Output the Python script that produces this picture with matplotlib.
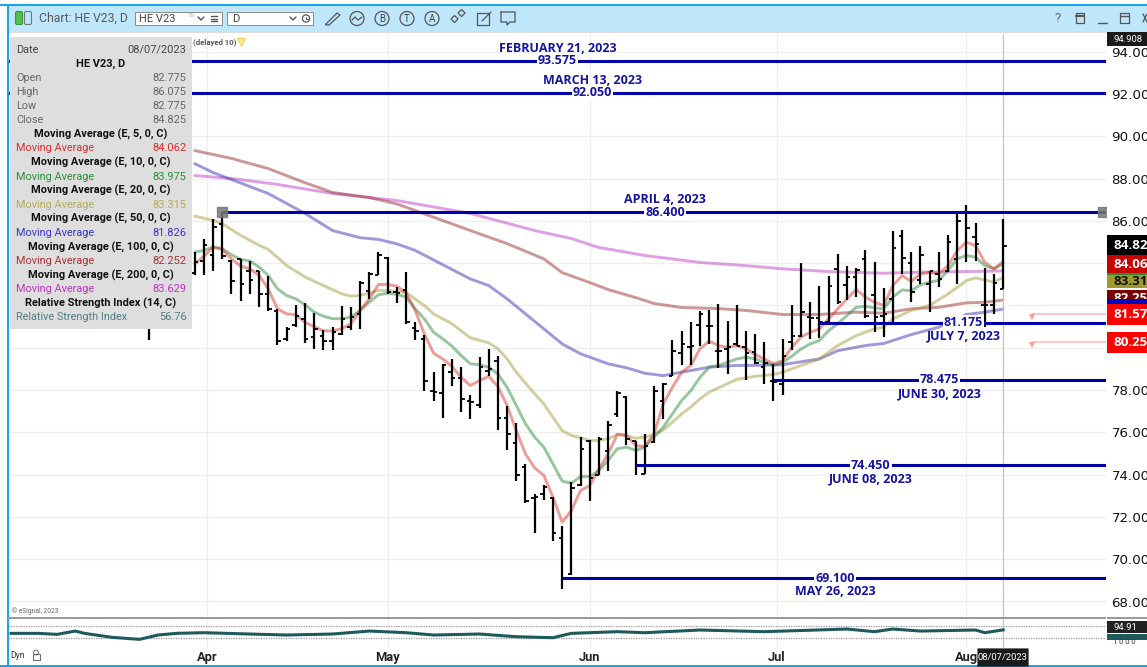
import matplotlib
matplotlib.use("Agg")
import matplotlib.pyplot as plt
from matplotlib.patches import Rectangle, Circle, FancyBboxPatch
from matplotlib.transforms import ScaledTranslation

W, H = 1147, 667

# ---------- OHLC data (daily bars, oldest first; last bar is 08/07/2023) ----------
opens = [82.8, 81.0, 82.3, 82.9, 83.1, 83.54, 84.08, 84.36, 85.83, 84.10, 84.21, 83.65, 83.61, 82.52, 81.72, 80.39,
         81.05, 81.34, 80.5, 80.55, 80.3, 80.66, 80.97, 81.6, 82.66, 83.46, 84.25, 82.63, 82.74, 80.94, 80.39, 77.97,
         77.85, 78.87, 78.57, 77.47, 77.31, 78.92, 79.36, 76.68, 75.5, 74.38, 72.9, 73.09, 72.9, 70.99, 69.3, 73.53,
         75.61, 73.96, 75.11, 76.87, 77.69, 75.61, 74.03, 75.53, 77.5, 78.68, 79.76, 80.02, 81.05, 81.02, 79.83, 79.95,
         80.18, 80.02, 79.79, 79.08, 78.41, 78.29, 80.26, 80.54, 81.44, 81.39, 81.2, 83.7, 82.97, 83.33, 84.2, 82.47,
         81.52, 82.31, 85.3, 84.0, 83.21, 83.02, 83.49, 83.65, 84.2, 86.41, 85.22, 82.02, 82.02, 82.775]
highs = [83.6, 82.6, 83.2, 83.9, 83.6, 84.52, 85.15, 86.10, 86.40, 84.13, 84.21, 84.08, 83.65, 83.37, 81.81, 80.97,
         82.0, 82.11, 81.65, 80.82, 80.97, 81.95, 81.92, 83.13, 83.57, 84.52, 84.28, 82.87, 83.57, 81.2, 80.62, 78.87,
         79.24, 79.47, 79.11, 77.74, 79.55, 79.95, 79.63, 77.22, 76.45, 74.48, 73.09, 73.5, 72.93, 71.59, 73.64, 75.77,
         75.64, 75.8, 76.53, 77.97, 77.71, 75.61, 75.9, 78.18, 78.32, 80.37, 80.81, 81.2, 81.73, 81.79, 82.07, 81.25,
         82.04, 80.78, 80.65, 80.26, 79.24, 80.42, 82.0, 84.01, 82.18, 82.91, 83.41, 84.44, 83.84, 83.76, 84.63, 84.04,
         82.81, 85.51, 85.57, 84.51, 84.83, 83.65, 84.51, 85.35, 86.33, 86.75, 85.89, 83.77, 83.49, 86.075]
lows = [80.35, 81.0, 81.6, 82.0, 82.2, 83.46, 83.46, 83.61, 84.21, 82.55, 82.22, 82.52, 81.92, 81.73, 80.11, 80.31,
        81.0, 80.22, 79.95, 79.87, 79.87, 80.58, 80.82, 80.9, 82.28, 83.42, 82.55, 82.13, 81.13, 80.37, 77.94, 77.5,
        76.68, 78.21, 76.98, 76.63, 77.15, 78.65, 76.1, 75.14, 73.69, 72.65, 71.24, 72.79, 70.88, 68.6, 69.27, 73.48,
        72.73, 73.96, 74.19, 76.71, 75.42, 73.99, 74.03, 75.48, 76.63, 78.64, 79.16, 79.16, 80.1, 80.18, 79.05, 78.76,
        80.1, 78.45, 79.24, 78.29, 77.5, 77.77, 79.87, 80.5, 80.42, 80.45, 81.16, 82.07, 82.26, 82.39, 81.41, 80.73,
        80.5, 81.13, 83.49, 82.15, 83.02, 81.68, 82.89, 83.57, 82.99, 84.07, 84.09, 80.97, 81.57, 82.775]
closes = [81.0, 82.3, 82.9, 83.1, 82.6, 84.05, 84.87, 85.70, 84.32, 83.15, 83.02, 83.18, 82.52, 81.84, 80.31, 80.90,
          81.49, 80.42, 80.9, 80.3, 80.74, 81.37, 81.45, 83.07, 83.5, 84.36, 82.63, 82.6, 81.21, 80.81, 78.42, 77.9,
          79.16, 78.57, 77.58, 77.42, 79.11, 79.0, 76.68, 75.93, 73.96, 72.77, 72.93, 73.4, 71.23, 69.1, 73.36, 75.22,
          73.85, 75.69, 76.35, 77.85, 75.69, 74.43, 75.34, 77.97, 78.26, 79.86, 80.18, 80.06, 81.57, 81.02, 79.86, 80.02,
          80.1, 79.74, 79.3, 79.3, 78.37, 79.6, 80.54, 81.68, 81.41, 81.2, 82.94, 82.15, 83.33, 83.68, 81.52, 81.44,
          81.6, 84.7, 84.23, 82.62, 84.36, 83.65, 83.25, 85.0, 86.01, 85.65, 84.88, 82.02, 83.05, 84.825]

# ---------- moving averages (each with the bar numbers it was read at) ----------
ma5_bars = list(range(5, 94))
ma5 = [83.97, 84.32, 84.76, 84.65, 84.2, 83.86, 83.73, 83.42, 82.79, 81.84, 81.6, 81.56, 81.2, 81.0, 80.8, 80.79,
       80.9, 81.13, 81.76, 82.31, 82.99, 82.99, 82.91, 82.6, 81.76, 80.65, 79.74, 79.47, 79.11, 78.6, 78.21, 78.45,
       78.65, 78.16, 77.27, 76.08, 74.98, 74.32, 73.96, 72.93, 71.75, 72.3, 73.25, 73.48, 74.27, 74.98, 75.9, 75.85,
       75.37, 75.33, 75.93, 77.34, 78.13, 78.84, 79.16, 79.95, 80.31, 80.1, 80.02, 80.1, 79.95, 79.68, 79.47, 79.24,
       79.39, 80.02, 80.5, 80.73, 80.89, 81.36, 81.84, 82.31, 82.75, 82.39, 82.15, 82.0, 82.94, 83.41, 83.14, 83.49,
       83.57, 83.49, 83.88, 84.59, 84.99, 84.83, 84.04, 83.73, 84.062]
ma10_bars = list(range(5, 94))
ma10 = [84.52, 84.6, 84.76, 84.68, 84.39, 84.17, 84.1, 83.81, 83.42, 82.79, 82.47, 82.31, 82.03, 81.68, 81.49, 81.37,
        81.37, 81.45, 81.76, 82.16, 82.5, 82.58, 82.52, 82.4, 81.84, 81.36, 80.73, 80.42, 80.07, 79.63, 79.24, 79.19,
        79.08, 78.76, 78.13, 77.27, 76.4, 75.77, 75.3, 74.5, 73.69, 73.59, 73.91, 73.91, 74.19, 74.67, 75.22, 75.3,
        75.14, 75.3, 75.77, 76.24, 76.87, 77.5, 77.97, 78.6, 79.08, 79.16, 79.31, 79.47, 79.55, 79.47, 79.31, 79.16,
        79.31, 79.6, 79.94, 80.18, 80.34, 80.81, 81.13, 81.52, 81.91, 81.96, 81.88, 81.84, 82.39, 82.73, 82.7, 82.97,
        83.1, 83.18, 83.65, 84.2, 84.36, 84.28, 83.88, 83.73, 83.975]
ma20_bars = [5, 7, 8, 10, 12, 13, 15, 17, 19, 21, 22, 23, 24, 25, 26, 27, 28, 29, 30, 31, 33, 35, 37, 38, 39, 40, 42,
             43, 44, 45, 46, 47, 48, 49, 50, 51, 52, 53, 54, 55, 56, 57, 58, 59, 60, 61, 62, 64, 66, 68, 69, 71, 73,
             75, 77, 79, 80, 81, 83, 85, 87, 89, 90, 92, 93]
ma20 = [86.22, 86.02, 85.86, 85.31, 84.84, 84.65, 83.89, 83.34, 82.94, 82.55, 82.44, 82.47, 82.58, 82.71, 82.71, 82.66,
        82.62, 82.3, 81.99, 81.6, 81.13, 80.47, 80.23, 79.95, 79.47, 78.84, 77.82, 77.34, 76.71, 76.08, 75.85, 75.74,
        75.61, 75.61, 75.69, 75.9, 75.85, 75.72, 75.77, 75.9, 76.11, 76.48, 76.87, 77.19, 77.58, 77.9, 78.1, 78.5,
        78.65, 78.73, 78.84, 79.16, 79.47, 80.1, 80.57, 80.89, 80.97, 81.36, 81.76, 82.0, 82.54, 83.17, 83.3, 83.1,
        83.315]
ma50_bars = [5, 7, 13, 17, 20, 23, 25, 27, 29, 33, 35, 37, 39, 41, 43, 45, 47, 50, 52, 54, 56, 59, 61, 64, 66, 69, 73,
             75, 78, 80, 83, 86, 89, 91, 93]
ma50 = [88.7, 88.28, 87.29, 86.35, 85.54, 85.2, 85.12, 84.91, 84.6, 83.7, 83.25, 82.94, 82.31, 81.6, 80.89, 80.18,
        79.71, 79.24, 79.05, 78.79, 78.68, 78.92, 79.08, 79.16, 79.16, 79.2, 79.47, 79.86, 80.1, 80.2, 80.62, 80.97,
        81.57, 81.68, 81.826]
ma100_bars = [5, 9, 13, 17, 20, 24, 27, 35, 39, 43, 45, 48, 50, 53, 55, 58, 62, 65, 69, 73, 77, 80, 83, 86, 89, 91, 93]
ma100 = [89.32, 88.95, 88.47, 87.8, 87.34, 87.1, 86.8, 85.54, 84.92, 84.2, 83.55, 83.08, 82.75, 82.37, 82.09, 81.9,
         81.85, 81.76, 81.57, 81.57, 81.68, 81.63, 81.84, 81.91, 82.12, 82.15, 82.252]
ma200_bars = [5, 9, 14, 20, 27, 35, 42, 46, 49, 54, 60, 65, 69, 74, 80, 84, 89, 93]
ma200 = [88.14, 88.0, 87.72, 87.29, 86.96, 86.35, 85.54, 85.16, 84.74, 84.36, 84.03, 83.88, 83.73, 83.6, 83.52, 83.57,
         83.6, 83.629]

# ---------- RSI pane ----------
rsi_bars = [-15, -12, -10, -8, -7, -4, -1, 1, 3, 6, 11, 15, 20, 24, 28, 31, 36, 40, 44, 46, 51, 54, 60, 67, 76, 79,
            81, 84, 90, 91, 93]
rsi = [45.7, 45.7, 42.5, 53, 45.7, 33, 26.7, 40.4, 45.7, 47.8, 43.6, 40.4, 43.6, 53, 47.8, 40.4, 43.6, 35, 32, 45.7,
       51, 47.8, 56.3, 51, 59.4, 51, 59.4, 53, 56.3, 47.8, 56.76]

# ---------- horizontal study lines ----------
line_values = [93.575, 92.050, 86.400, 81.175, 78.475, 74.450, 69.100]
line_texts = ["93.575", "92.050", "86.400", "81.175", "78.475", "74.450", "69.100"]
line_dates = ["FEBRUARY 21, 2023", "MARCH 13, 2023", "APRIL 4, 2023", "JULY 7, 2023", "JUNE 30, 2023",
              "JUNE 08, 2023", "MAY 26, 2023"]
line_start_bars = [-15.33, -15.33, 8, 73, 68, 53, 45]
line_label_bars = [44.5, 48.3, 56.2, 88.7, 86.1, 78.6, 74.7]
line_date_above = [True, True, True, False, False, False, False]

month_labels = ["Apr", "May", "Jun", "Jul", "Aug"]
month_bars = [6.35, 26, 48, 68.36, 89]
price_ticks = list(range(68, 96, 2))
stop_values = [81.575, 80.25]

# data window rows: (left text, right text, colour, bold)
window_rows = [
    ("Date", "08/07/2023", "#444444", False),
    ("HE V23, D", None, "#111111", True),
    ("Open", "82.775", "#666666", False),
    ("High", "86.075", "#666666", False),
    ("Low", "82.775", "#666666", False),
    ("Close", "84.825", "#666666", False),
    ("Moving Average (E, 5, 0, C)", None, "#111111", True),
    ("Moving Average", "84.062", "#d8302c", False),
    ("Moving Average (E, 10, 0, C)", None, "#111111", True),
    ("Moving Average", "83.975", "#2e8f3a", False),
    ("Moving Average (E, 20, 0, C)", None, "#111111", True),
    ("Moving Average", "83.315", "#b5ad55", False),
    ("Moving Average (E, 50, 0, C)", None, "#111111", True),
    ("Moving Average", "81.826", "#3a34c8", False),
    ("Moving Average (E, 100, 0, C)", None, "#111111", True),
    ("Moving Average", "82.252", "#a83232", False),
    ("Moving Average (E, 200, 0, C)", None, "#111111", True),
    ("Moving Average", "83.629", "#c035c0", False),
    ("Relative Strength Index (14, C)", None, "#111111", True),
    ("Relative Strength Index", "56.76", "#4f7f86", False),
]

# ---------- figure and axes ----------
NAVY = "#0000a6"
fig = plt.figure(figsize=(W / 100, H / 100), dpi=100, facecolor="white")


def px_axes(left, top, right, bottom, **kw):
    return fig.add_axes([left / W, 1 - bottom / H, (right - left) / W, (bottom - top) / H], **kw)


ax = px_axes(8, 33.5, 1106, 617.5, zorder=1)
ax.set_xlim(-15.33, 104.2)
ax.set_ylim(67.243, 94.856)
for s in ax.spines.values():
    s.set_visible(False)
ax.set_xticks(month_bars)
ax.set_xticklabels([])
ax.set_yticks(price_ticks)
ax.set_yticklabels([f"{v:.3f}" for v in price_ticks], fontsize=9.6, color="#111111", family="DejaVu Sans")
ax.yaxis.tick_right()
ax.tick_params(length=0, pad=4)
ax.grid(True, color="#efefef", lw=1)
ax.set_axisbelow(True)
shift_down = ScaledTranslation(0, -0.2 / 100, fig.dpi_scale_trans)
for lbl in ax.get_yticklabels():
    lbl.set_transform(lbl.get_transform() + shift_down)

ma_series = [
    (ma200_bars, ma200, "#c040c8"),
    (ma100_bars, ma100, "#9c3030"),
    (ma50_bars, ma50, "#3c34b8"),
    (ma20_bars, ma20, "#a89c40"),
    (ma10_bars, ma10, "#2f8f3f"),
    (ma5_bars, ma5, "#dc3c30"),
]
for bars, vals, col in ma_series:
    ax.plot(bars, vals, color=col, lw=2.1, alpha=0.5, zorder=2, solid_capstyle="round")

idx = list(range(len(closes)))
ax.vlines(idx, lows, highs, color="black", lw=1.6, zorder=4)
ax.hlines(opens, [i - 0.38 for i in idx], idx, color="black", lw=1.3, zorder=4)
ax.hlines(closes, idx, [i + 0.38 for i in idx], color="black", lw=1.3, zorder=4)

right_edge = ax.get_xlim()[1]
label_font = dict(family="Open Sans", fontsize=9.0, fontweight="bold", color="#1414a0", ha="center", va="center")
for val, txt, dt, st, lb, above in zip(line_values, line_texts, line_dates, line_start_bars, line_label_bars,
                                       line_date_above):
    ax.hlines(val, st, right_edge, color=NAVY, lw=2.2, zorder=5)
    ax.text(lb, val, txt, zorder=6, bbox=dict(fc="white", ec="none", pad=0.6), **label_font)
    ax.annotate(dt, xy=(lb, val), xytext=(0, 12.5 if above else -13.5), textcoords="offset pixels", zorder=6,
                annotation_clip=False, **label_font)
ax.plot([8, 103.85], [86.4, 86.4], ls="none", marker="s", ms=6.5, color="#777777", alpha=0.85, zorder=7)

# stop arrows
ax.hlines(stop_values, 96.16, right_edge, color="#ffb8b8", lw=1.1, zorder=3)
ax.plot([96.16, 96.16], stop_values, ls="none", marker="v", ms=5, mew=0, color="#ff9a9a", zorder=3,
        transform=ax.transData + ScaledTranslation(0, -2.5 / 100, fig.dpi_scale_trans))

# crosshair at the last bar
ax.axvline(93, color="#c4c4c4", lw=0.9, zorder=3)

# RSI pane
rx = px_axes(8, 618, 1106, 648, zorder=1)
rx.set_xlim(ax.get_xlim())
rx.set_ylim(-0.75, 94.4)
for s in rx.spines.values():
    s.set_visible(False)
rx.set_xticks(month_bars)
rx.set_xticklabels([])
rx.set_yticks([])
rx.tick_params(length=0)
rx.grid(True, axis="x", color="#efefef", lw=1)
rx.hlines([70, 30], -15.33, right_edge, color="#9a9a9a", lw=0.9, linestyles=(0, (1, 1)))
rx.plot(rsi_bars, rsi, color="#1e5a5c", lw=2.2, zorder=3)
rx.axvline(93, color="#c4c4c4", lw=0.9, zorder=2)

# month labels under the panes, placed through the bar scale
for lab, b in zip(month_labels, month_bars):
    rx.annotate(lab, xy=(b, 0), xycoords=("data", "axes fraction"), xytext=(0, -7), textcoords="offset points",
                ha="center", va="center", fontsize=9.3, fontweight="semibold", family="Roboto", color="#222222",
                annotation_clip=False, zorder=3)

# ---------- window chrome ----------
ch = fig.add_axes([0, 0, 1, 1], zorder=5, facecolor="none")
ch.set_xlim(0, W)
ch.set_ylim(H, 0)
ch.axis("off")


def rect(x0, y0, x1, y1, fc, ec="none", lw=0, z=1, **kw):
    ch.add_patch(Rectangle((x0, y0), x1 - x0, y1 - y0, fc=fc, ec=ec, lw=lw, zorder=z, **kw))


def text(x, y, s, size=8, color="#333333", ha="left", weight="normal", family="Roboto", z=3, **kw):
    return ch.text(x, y, s, fontsize=size, color=color, ha=ha, va="center", fontweight=weight, family=family,
                   zorder=z, **kw)


def seg(xs, ys, color="#555555", lw=1.0, z=3):
    ch.plot(xs, ys, color=color, lw=lw, zorder=z, solid_capstyle="round")


BORDER = "#1aa3ea"
rect(8, 5, W, 31, "#bfe7fb", z=1)
rect(8, 31, W, 33, "#dcdcdc", z=1)
rect(0, 4, W, 6, BORDER, z=2)
rect(7, 4, 9, 667, BORDER, z=2)
rect(0, 665, W, 667, BORDER, z=2)
rect(0, 4, 7, 667, "white", z=1)

# toolbar left
ch.add_patch(FancyBboxPatch((17, 13), 4, 10, boxstyle="round,pad=1.5", fc="#50c050", ec="#3a9a3a", lw=0.8, zorder=3))
ch.add_patch(FancyBboxPatch((26, 13), 4, 10, boxstyle="round,pad=1.5", fc="none", ec="#777777", lw=0.8, zorder=3))
text(39, 18, "Chart: HE V23, D", size=8.8, color="#5a5a5a")
rect(135, 12, 222, 25, "white", ec="#8a8a8a", lw=0.7, z=2)
text(139, 19, "HE V23", size=8, color="#444444")
text(188, 15.5, "10", size=4.5, color="#7ab8e8")
seg([198, 201, 204], [17, 20, 17])
for yy in (16, 18.5, 21):
    seg([211, 217], [yy, yy])
rect(227, 12, 313, 25, "white", ec="#8a8a8a", lw=0.7, z=2)
text(232, 19, "D", size=8, color="#444444")
seg([290, 293, 296], [17, 20, 17])
ch.add_patch(Circle((306, 18.5), 3.6, fc="none", ec="#555555", lw=0.9, zorder=3))
seg([306, 306, 308], [16.5, 18.5, 18.5], lw=0.7)

# toolbar icons
seg([326, 337, 340, 329, 326, 326], [24, 13, 15, 25, 25, 24], lw=0.9)
for cx in (357, 382, 407, 432):
    ch.add_patch(Circle((cx, 18.5), 7, fc="none", ec="#555555", lw=0.9, zorder=3))
seg([352, 355, 358, 362], [20, 17, 20, 17], lw=0.9)
text(382, 18.5, "B", size=7, ha="center", color="#444444")
text(407, 18.5, "T", size=7, ha="center", color="#444444")
text(432, 18.5, "A", size=7, ha="center", color="#444444")
ch.add_patch(Rectangle((451, 19), 5, 5, angle=-45, fc="none", ec="#555555", lw=0.9, zorder=3))
ch.add_patch(Rectangle((458, 13), 5, 5, angle=-45, fc="none", ec="#555555", lw=0.9, zorder=3))
seg([477, 477, 489, 489, 477], [13, 25, 25, 13, 13], lw=0.9)
seg([482, 491], [21, 12], lw=0.9)
seg([501, 515, 515, 510, 507, 507, 501, 501], [12, 12, 22, 22, 25, 22, 22, 12], lw=0.9)

# toolbar right
text(1058, 18, "?", size=9.5, ha="center", color="#666666")
seg([1076, 1084, 1084, 1076, 1076], [13, 13, 23, 23, 13], lw=0.9)
seg([1076, 1084], [16, 16], lw=1.5)
seg([1098, 1107], [23, 23], lw=1.0)
seg([1120, 1129, 1129, 1120, 1120], [13, 13, 23, 23, 13], lw=0.9)
seg([1120, 1129], [16, 16], lw=1.0)
seg([1143, 1147], [14, 22], lw=0.9)
seg([1143, 1147], [22, 14], lw=0.9)

# notes on the chart
text(193, 42.5, "(delayed 10)", size=5.6, color="#555555", weight="bold")
ch.plot([241], [42], marker="v", ms=6, mfc="#ffe9a0", mec="#f2c94c", mew=0.7, zorder=3)
text(12, 611.5, "\u00a9 eSignal, 2023", size=4.8, color="#666666")

# data window
rect(10, 37, 192, 329, "#dedede", z=2)
for k, (left, right, col, bold) in enumerate(window_rows):
    y = 49.9 + 14.07 * k
    if right is None:
        text(100.5, y, left, size=7.9, color=col, ha="center", weight="bold")
    else:
        text(16, y, left, size=7.8, color=col)
        text(186.5, y, right, size=7.9, color=col, ha="right")


# value tags on the price scale
def tag(y0, y1, fc, s, color="white", size=9.6, weight="bold", z=4, fam="Open Sans", ty=None):
    rect(1107, y0, W, y1, fc, z=z)
    yy = (y0 + y1) / 2 + 0.3 if ty is None else ty
    text(1113, yy, s, size=size, color=color, weight=weight, family=fam, z=z, clip_on=True)


tag(32, 46, "#1a1a1a", "94.908", size=6.8, weight="normal", fam="Roboto")
tag(290, 299, "#7a0000", "82.252", z=4, ty=298)
rect(1107, 273, W, 275, "#2e8b2e", z=5)
tag(275, 288, "#a09a2c", "83.315", color="#111111", z=5)
tag(235, 255, "#000000", "84.825", z=5)
tag(255, 273, "#c80000", "84.062", z=5)
rect(1107, 299, W, 304, "#0000c0", z=6)
tag(304, 325, "#ff0000", "81.575", z=6)
tag(332, 353, "#ff0000", "80.250", z=6)

# lower pane tags and chrome
rect(8, 617, 1106, 619, "#9a9a9a", z=2)
rect(1107, 617, W, 619, "#9a9a9a", z=2)
rect(1107, 634, W, 640, "#1e5a5c", z=3)
tag(621, 633, "#222222", "94.91", size=6.8, weight="normal", fam="Roboto")
text(1113, 642.5, "1 0 0 0", size=5.5, color="#333333")
text(10, 655, "Dyn", size=6.2, color="#333333")
ch.add_patch(Rectangle((32.5, 654), 7, 6, fc="none", ec="#666666", lw=0.7, zorder=3))
ch.add_patch(Circle((36, 652.5), 2.4, fc="none", ec="#666666", lw=0.7, zorder=3))
ch.add_patch(FancyBboxPatch((978, 649), 50, 17, boxstyle="round,pad=0.6", fc="#1a1a1a", ec="none", zorder=4))
text(1003, 657.5, "08/07/2023", size=6.8, color="white", ha="center", z=5)

fig.savefig("out.png", dpi=100, facecolor="white")
